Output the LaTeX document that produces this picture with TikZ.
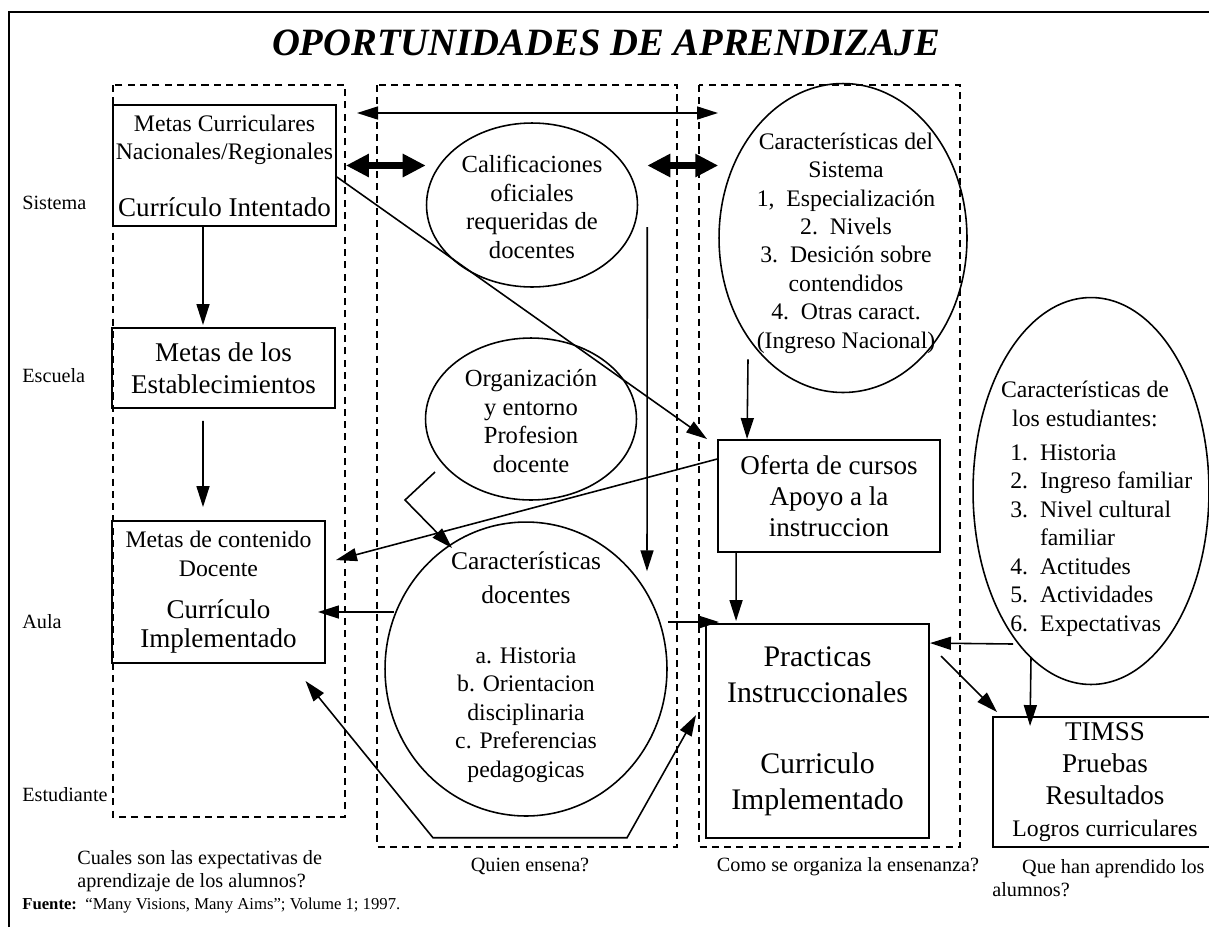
\documentclass[tikz,border=0pt]{standalone}
\usepackage{fontspec}
\setmainfont{Liberation Serif}
\usetikzlibrary{arrows.meta,shapes.geometric,calc}

\newcommand{\fsmall}{\fontsize{11.5}{13.8}\selectfont}
\newcommand{\fmed}{\fontsize{13.5}{16.2}\selectfont}
\newcommand{\fbig}{\fontsize{15.4}{18.5}\selectfont}

\tikzset{
  goal/.style={draw, rectangle, line width=1.1pt, inner sep=0pt, align=center},
  bubble/.style={draw, ellipse, line width=0.9pt, inner sep=0pt},
  bubbletext/.style={inner sep=0pt, align=center, font=\fmed},
  column/.style={line width=0.6pt, dash pattern=on 4pt off 3pt},
  level/.style={anchor=west, inner sep=0pt, font=\fsmall},
  question/.style={inner sep=0pt, font=\fontsize{11.5}{13}\selectfont, align=left},
  tip/.style={-{Triangle[length=0.42cm,width=0.26cm]}, line width=0.9pt},
  twotip/.style={{Triangle[length=0.42cm,width=0.26cm]}-{Triangle[length=0.42cm,width=0.26cm]}, line width=0.9pt},
  fattip/.style={{Triangle[length=0.46cm,width=0.44cm]}-{Triangle[length=0.46cm,width=0.44cm]}, line width=3.8pt},
}

\begin{document}
\begin{tikzpicture}[x=0.02cm, y=-0.02cm]
  \useasboundingbox (0,0) rectangle (1209,927);

  % frame and title
  \draw[line width=1.6pt] (9,927) -- (9,12) -- (1209,12);
  \node[font=\fontsize{22}{26}\selectfont\bfseries\itshape] (title) at (606,43) {OPORTUNIDADES DE APRENDIZAJE};

  % dashed columns
  \draw[column] (113,85) rectangle (345,817);
  \draw[column] (377,85) rectangle (677,847);
  \draw[column] (699,85) rectangle (960,847);

  % levels
  \node[level] (lvl-sistema) at (22,203) {Sistema};
  \node[level] (lvl-escuela) at (22,376) {Escuela};
  \node[level] (lvl-aula) at (22,622) {Aula};
  \node[level] (lvl-estud) at (22,795) {Estudiante};

  % curriculum boxes
  \node[goal, minimum width=4.46cm, minimum height=2.42cm, font=\fmed] (curr) at (224.5,165.5)
    {Metas Curriculares\\Nacionales/Regionales\\[16pt]{\fbig Currículo Intentado}};
  \node[goal, minimum width=4.46cm, minimum height=1.6cm, font=\fbig] (estab) at (223.5,368)
    {Metas de los\\Establecimientos};
  \node[goal, minimum width=4.26cm, minimum height=2.84cm, font=\fmed] (docmeta) at (218.5,592)
    {Metas de contenido\\Docente\\[8pt]{\fbig Currículo}\\{\fbig Implementado}};
  \node[goal, minimum width=4.44cm, minimum height=2.24cm, font=\fontsize{15.4}{17.6}\selectfont] (oferta) at (829,496)
    {Oferta de cursos\\Apoyo a la\\instruccion};
  \node[goal, minimum width=4.46cm, minimum height=4.28cm, font=\fontsize{17}{20.5}\selectfont] (practicas) at (817.5,731)
    {Practicas\\Instruccionales\\[20pt]Curriculo\\Implementado};
  \node[goal, minimum width=4.48cm, minimum height=2.6cm, font=\fontsize{15.4}{18.2}\selectfont] (timss) at (1105,782)
    {TIMSS\\Pruebas\\Resultados\\{\fmed Logros curriculares}};

  % ellipses
  \node[bubble, minimum width=4.22cm, minimum height=3.28cm] (calif) at (532,205) {};
  \node[bubbletext, font=\fontsize{14}{16.2}\selectfont] (calif-txt) at (532,207) {Calificaciones\\oficiales\\requeridas de\\docentes};
  \node[bubble, minimum width=4.22cm, minimum height=3.24cm] (organiz) at (531,419) {};
  \node[bubbletext, font=\fontsize{14}{16.2}\selectfont] (organiz-txt) at (531,421) {Organización\\y entorno\\Profesion\\docente};
  \node[bubble, minimum width=5.64cm, minimum height=5.88cm] (docentes) at (526,669) {};
  \node[bubbletext] (docentes-txt) at (526,667)
    {{\fontsize{14.5}{17}\selectfont Características}\\[3pt]{\fontsize{14.5}{17}\selectfont docentes}\\[18pt]a. Historia\\b. Orientacion\\disciplinaria\\c. Preferencias\\pedagogicas};
  \node[bubble, minimum width=4.96cm, minimum height=6.18cm] (sistema) at (843,238) {};
  \node[bubbletext] (sistema-txt) at (846,243)
    {Características del\\Sistema\\1,\ \ Especialización\\2.\ \ Nivels\\3.\ \ Desición sobre\\contendidos\\4.\ \ Otras caract.\\(Ingreso Nacional)};
  \node[bubble, minimum width=4.72cm, minimum height=7.74cm] (estud) at (1091,491) {};
  \node[bubbletext] (estud-head) at (1085,404) {Características de\\los estudiantes:};
  \node[inner sep=0pt, font=\fmed, anchor=west] (estud-list) at (1010,540)
    {\begin{tabular}{@{}l@{\ \ }l@{}}1. & Historia\\2. & Ingreso familiar\\3. & Nivel cultural\\ & familiar\\4. & Actitudes\\5. & Actividades\\6. & Expectativas\end{tabular}};

  % links between columns
  \coordinate (link-l) at (357,113);
  \coordinate (link-r) at (718,113);
  \draw[twotip] (link-l) -- (link-r);
  \draw[fattip] ([xshift=0.18cm]curr.east) -- (calif.west |- curr.east);
  \draw[fattip] ($(calif.east |- curr.east)+(9,0)$) -- (sistema.west |- curr.east);

  % arrows
  \draw[tip] ([xshift=-0.43cm]curr.south) -- ([xshift=-0.41cm,yshift=0.04cm]estab.north);
  \draw[tip] ([xshift=-0.41cm,yshift=-0.24cm]estab.south) -- ([xshift=-0.31cm,yshift=0.26cm]docmeta.north);
  \draw[tip] ([yshift=-0.23cm]curr.east) -- ([xshift=-0.2cm]oferta.north west);
  \draw[tip] ($(calif.east)+(9,22)$) -- ($(docentes.north)+(121,50)$);
  \draw[tip] ($(sistema.south)+(-95,-34)$) -- ($(oferta.north west)+(30,0)$);
  \draw[tip] ($(oferta.north west)+(0,20)$) -- ($(docmeta.north east)+(10,40)$);
  \draw[tip] ($(organiz.center)+(-96,53)$) -- ($(organiz.center)+(-126,81)$) -- ($(docentes.center)+(-74,-121)$);
  \coordinate (meta-in) at ($(docmeta.east)+(-8,20)$);
  \draw[tip] ($(docentes.west |- meta-in)+(10,0)$) -- (meta-in);
  \draw[twotip] ($(docmeta.south)+(87,17)$) -- ($(docentes.south)+(-93,21)$) -- ($(docentes.south)+(101,21)$) -- ($(practicas.west)+(-9,-16)$);
  \coordinate (prac-in) at ($(practicas.north west)+(14,-1)$);
  \draw[tip] (docentes.east |- prac-in) -- (prac-in);
  \draw[tip] ($(oferta.south west)+(19,0)$) -- ($(practicas.north west)+(31,-2)$);
  \draw[tip] ($(estud.center)+(-78,153)$) -- ($(practicas.north east)+(0,20)$);
  \draw[tip] ($(practicas.north east)+(11,33)$) -- ($(timss.north west)+(5,-4)$);
  \draw[tip] ($(estud.center)+(-60,166)$) -- ($(timss.north west)+(38,10)$);

  % questions and source
  \node[question, anchor=west] (q-expect) at (77,871) {Cuales son las expectativas de\\aprendizaje de los alumnos?};
  \node[question] (q-quien) at (530,866) {Quien ensena?};
  \node[question] (q-como) at (848,867) {Como se organiza la ensenanza?};
  \node[question, anchor=west] (q-que) at (992,878) {\hspace*{17pt}Que han aprendido los\\alumnos?};
  \node[anchor=west, inner sep=0pt, font=\fontsize{9.5}{11}\selectfont] (fuente) at (22,905)
    {\textbf{Fuente:}\ \ “Many Visions, Many Aims”; Volume 1; 1997.};
\end{tikzpicture}
\end{document}
